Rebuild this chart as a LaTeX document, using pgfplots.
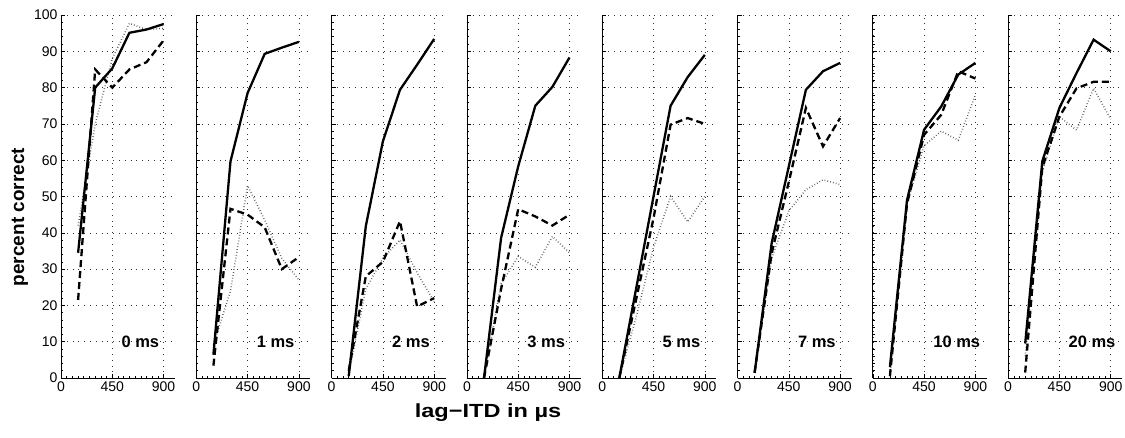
\documentclass[border=0pt]{standalone}
\usepackage{graphicx}
\usepackage{pgfplots}
\pgfplotsset{compat=1.18}
\usepackage{pgfplotstable}
\usepackage{fontspec}
\setmainfont{Liberation Sans}

% columns: lag-ITD, solid, dashed, dotted
\pgfplotstableread{
x   s     d     o
150 34.5  21.5  42
300 80    85    70
450 85.3  80    88
600 95.1  85    97.7
750 96    87    96
900 97.5  93    96.3
}\tA
\pgfplotstableread{
x   s     d     o
150 6.4   3.4   9
300 59.7  46.6  24
450 78.5  45    53
600 89.3  41.5  43.5
750 91    30    33
900 92.6  33.3  27
}\tB
\pgfplotstableread{
x   s     d     o
150 0.5   2     1
300 41.8  28    24.5
450 65.2  32    33
600 79.4  43.2  38
750 86.3  19.7  29
900 93.4  22    21
}\tC
\pgfplotstableread{
x   s     d     o
150 0     0     0
300 38.6  24.5  26
450 58.3  46.5  33.5
600 75    44.5  30.5
750 80.2  42    39
900 88.3  45    34.5
}\tD
\pgfplotstableread{
x   s     d     o
150 0     0     0
300 25    22    17
450 50    44    36
600 75    69.8  50
750 82.9  71.6  43
900 89    70    50
}\tE
\pgfplotstableread{
x   s     d     o
150 1.4   1.5   1.5
300 37.2  34.4  33
450 58.3  54    46
600 79.4  74.4  51.9
750 84.5  63.8  54.6
900 86.8  71.6  53.3
}\tF
\pgfplotstableread{
x   s     d     o
150 3     0.5   0.5
300 49    48    48
450 68.4  67    64
600 74.8  72.5  68
750 83.6  84.5  65.5
900 86.8  82.5  78
}\tG
\pgfplotstableread{
x   s     d     o
150 9.5   1.5   6
300 59.7  58    57
450 74.4  72    72
600 84    79.8  68.3
750 93.2  81.6  79.8
900 90    81.6  71.3
}\tH

\pgfplotsset{
  panel/.style={
    scale only axis, width=114pt, height=363pt, anchor=south west,
    xmin=0, xmax=1000, ymin=0, ymax=100,
    xtick={0,450,900}, ytick={0,10,...,100},
    minor x tick num=8, minor y tick num=4,
    axis lines*=left, axis line style={-, line width=0.8pt},
    grid=major,
    major grid style={black!80, line width=0.5pt, dash pattern=on 0.8pt off 5pt},
    major tick length=4pt, minor tick length=2pt,
    tick style={black, line width=0.6pt},
    ticklabel style={font=\fontsize{14}{14}\selectfont},
    /pgf/number format/assume math mode=true,
    clip=false,
  },
  sline/.style={black, line width=2.3pt},
  dline/.style={black, line width=2.3pt, dash pattern=on 7pt off 4pt},
  oline/.style={black!65, line width=1.5pt, dash pattern=on 0.7pt off 2.2pt},
}

\newcommand{\panel}[4]{%
  \begin{axis}[panel, at={(#1,59pt)}, #4]
    \addplot[oline] table[x=x, y=o] {#2};
    \addplot[dline] table[x=x, y=d] {#2};
    \addplot[sline] table[x=x, y=s] {#2};
    \node[anchor=west, font=\bfseries\fontsize{16.5}{16.5}\selectfont]
      at (axis cs:500,10) {#3};
  \end{axis}}

\begin{document}
\begin{tikzpicture}
\useasboundingbox (0,0) rectangle (1125pt,437pt);
\panel{61pt}{\tA}{0 ms}{ylabel={percent correct},
  ylabel style={at={(axis description cs:-0.36,0.4435)}, anchor=center,
    font=\bfseries\fontsize{19}{19}\selectfont}}
\panel{196.3pt}{\tB}{1 ms}{yticklabels={}}
\panel{331.6pt}{\tC}{2 ms}{yticklabels={}}
\panel{466.9pt}{\tD}{3 ms}{yticklabels={}}
\panel{602.2pt}{\tE}{5 ms}{yticklabels={}}
\panel{737.5pt}{\tF}{7 ms}{yticklabels={}}
\panel{872.8pt}{\tG}{10 ms}{yticklabels={}}
\panel{1008.1pt}{\tH}{20 ms}{yticklabels={}}
\node[font=\bfseries\fontsize{19}{19}\selectfont] at (488pt,24pt)
  {\scalebox{1.24}[1]{lag−ITD in µs}};
\end{tikzpicture}
\end{document}
